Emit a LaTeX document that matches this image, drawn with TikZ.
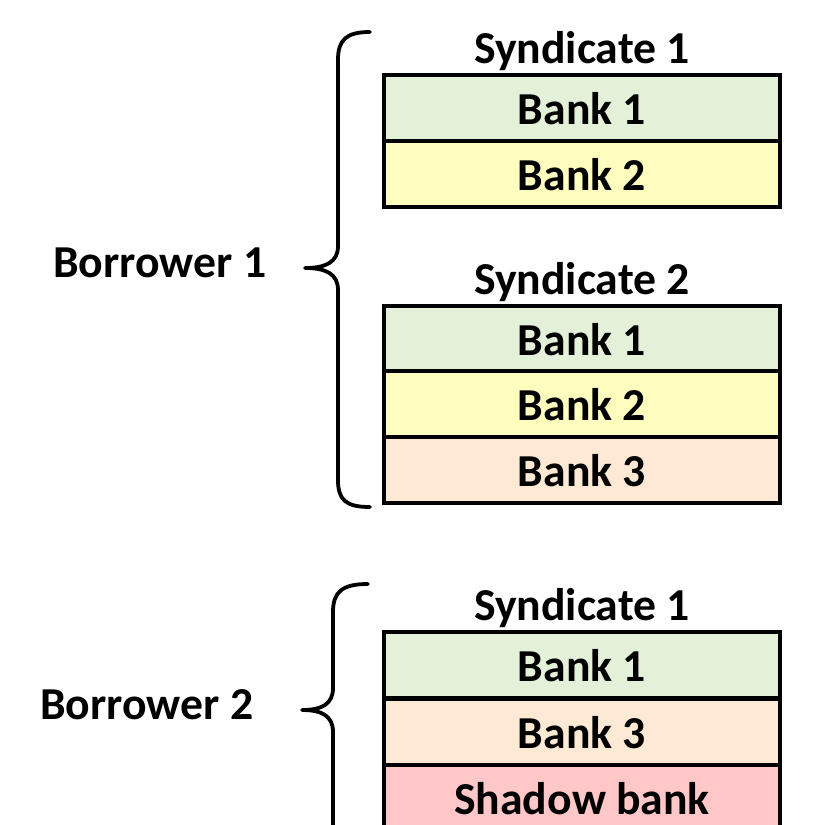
\documentclass[tikz,border=0pt]{standalone}
\usepackage{fontspec}
\setmainfont{Carlito}
\definecolor{bankA}{HTML}{E4F1D9}
\definecolor{bankB}{HTML}{FFFDBD}
\definecolor{bankC}{HTML}{FDE9D4}
\definecolor{shadowbank}{HTML}{FFC7C7}
\tikzset{
  txt/.style={font=\fontsize{45.7}{54}\selectfont\bfseries},
  bankbox/.style={txt, draw=black, line width=4pt, minimum width=396pt,
    minimum height=66pt, inner sep=0pt, text height=33pt, text depth=0pt},
  title/.style={txt, anchor=base, inner sep=0pt},
  borrower/.style={txt, anchor=base west, inner sep=0pt},
  bracket/.style={line width=3.8pt, line cap=round, line join=round}
}
\begin{document}
\begin{tikzpicture}[x=1pt,y=-1pt]
\useasboundingbox (0,0) rectangle (831,825);
\clip (0,0) rectangle (831,825);

% Borrower 1
\node[borrower] (b1) at (53,277) {Borrower 1};
\draw[bracket] (370,32) .. controls (346,32) and (338,40) .. (338,60)
  -- (338,246) .. controls (338,262) and (326,268) .. (305,268)
  .. controls (326,268) and (338,274) .. (338,290)
  -- (338,480) .. controls (338,500) and (346,507) .. (370,507);

\node[title] (s11) at (582,63) {Syndicate 1};
\node[bankbox, fill=bankA] (s11b1) at (582,107.5) {Bank 1};
\node[bankbox, fill=bankB] (s11b2) at (582,174) {Bank 2};

\node[title] (s12) at (582,294) {Syndicate 2};
\node[bankbox, fill=bankA] (s12b1) at (582,338.5) {Bank 1};
\node[bankbox, fill=bankB] (s12b2) at (582,404) {Bank 2};
\node[bankbox, fill=bankC] (s12b3) at (582,469.5) {Bank 3};

% Borrower 2
\node[borrower] (b2) at (40,719) {Borrower 2};
\draw[bracket] (368,584) .. controls (342,584) and (333,592) .. (333,612)
  -- (333,688) .. controls (333,704) and (322,710) .. (302,710)
  .. controls (322,710) and (333,716) .. (333,732)
  -- (333,830);

\node[title] (s21) at (582,620) {Syndicate 1};
\node[bankbox, fill=bankA] (s21b1) at (582,665) {Bank 1};
\node[bankbox, fill=bankC] (s21b3) at (582,731.5) {Bank 3};
\node[bankbox, fill=shadowbank] (s21sb) at (582,798) {Shadow bank};
\end{tikzpicture}
\end{document}
